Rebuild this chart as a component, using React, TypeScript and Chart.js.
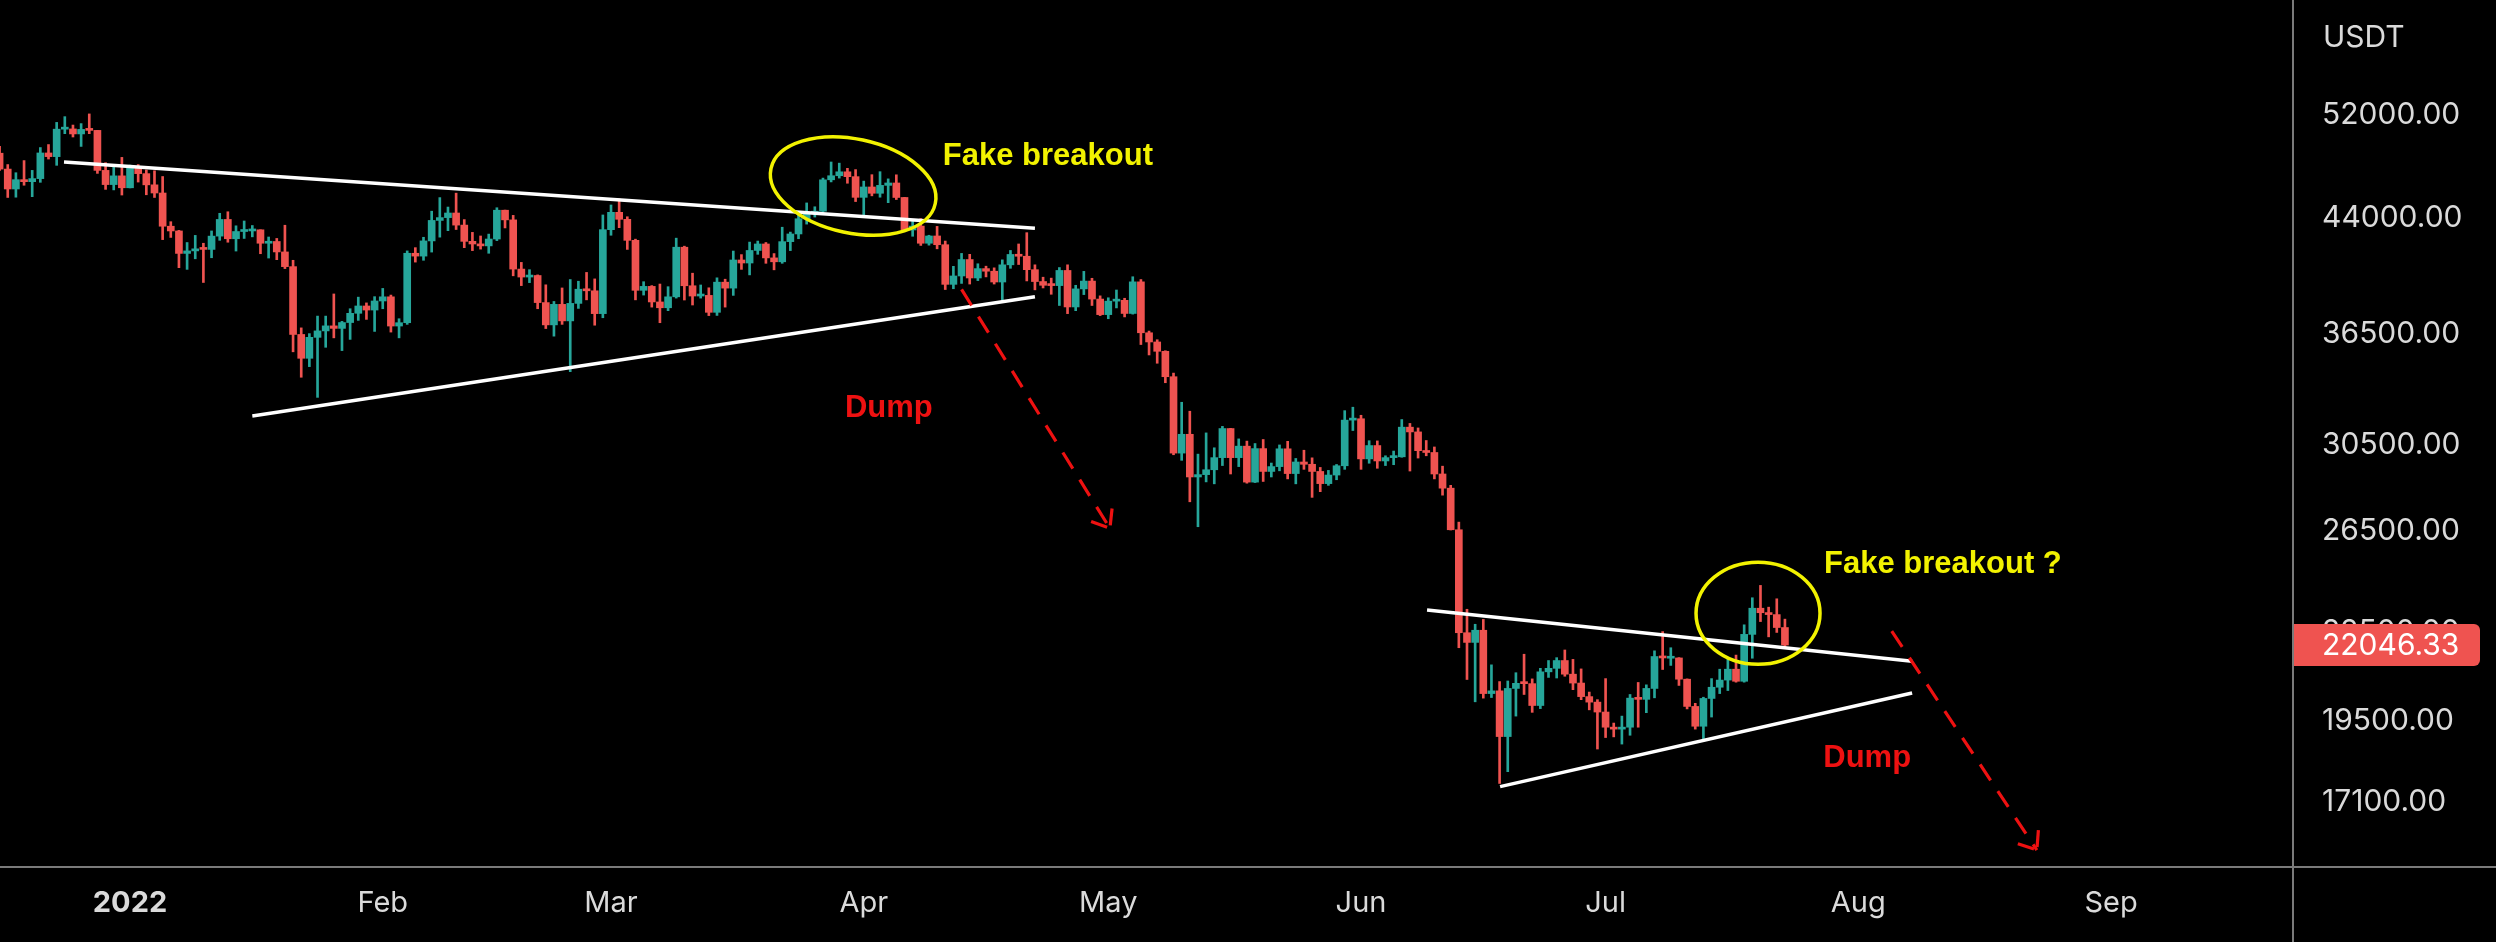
import React, { useEffect, useRef } from "react";
import { Chart, registerables } from "chart.js";

Chart.register(...registerables);

// Day offsets are counted from 1 Jan 2022 (day 0). First candle: 16 Dec 2021.
const FIRST_DAY = -16;

const openPrices = [
  // Dec 16-31
  48880, 47640, 46130, 46830, 46680, 46910, 48900, 48610, 50820, 50840, 50430, 50800, 50720, 47540, 46460, 47120,
  // Jan
  46220, 47720, 47290, 46440, 45830, 43430, 43100, 41560, 41730, 41870, 41830, 42740, 43910, 42560, 43060, 43100,
  43180, 42250, 42370, 41660, 40680, 36450, 35070, 36280, 36660, 36960, 36810, 37160, 37720, 38170, 37920,
  // Feb
  38480, 38740, 36950, 37150, 41570, 41380, 42410, 43840, 44040, 44370, 43510, 42380, 42200, 42070, 42540, 44570,
  43880, 40520, 40000, 40100, 38380, 37020, 38270, 37260, 38330, 39220, 39120, 37700,
  // Mar
  43190, 44420, 43920, 42450, 39150, 39400, 38420, 38060, 38740, 41980, 39440, 38790, 38830, 37780, 39670, 39290,
  41120, 40920, 41760, 42200, 41260, 41000, 42360, 42890, 43960, 44350, 44500, 46820, 47130, 47430, 47060,
  // Apr
  45510, 46280, 45810, 46400, 46580, 45500, 43170, 43440, 42250, 42750, 42150, 39530, 40070, 41150, 39940, 40550,
  40380, 39680, 40800, 41490, 41370, 40480, 39710, 39470, 39450, 40430, 38110, 39240, 39740, 38600,
  // May
  37640, 38470, 38520, 37710, 39690, 36550, 36010, 35470, 34040, 30080, 31010, 28940, 29050, 29280, 29860, 31300,
  29860, 30420, 28700, 30300, 29200, 29430, 30290, 29100, 29650, 29540, 29200, 28630, 29030, 29470, 31730,
  // Jun
  31800, 29800, 30450, 29700, 29860, 29900, 31370, 31130, 30200, 30110, 29080, 28420, 26570, 22490, 22140, 22580,
  20380, 20470, 19010, 20550, 20720, 20710, 19990, 21110, 21230, 21500, 21030, 20730, 20280, 20100,
  // Jul 1-23
  19780, 19300, 19240, 19300, 20230, 20190, 20550, 21640, 21580, 21590, 20860, 19960, 19330, 20220, 20590, 20830,
  21200, 20790, 22430, 23400, 23230, 23160, 22680,
];

const highPrices = [
  49430, 47990, 47360, 48300, 47540, 49330, 49570, 51380, 51860, 51160, 51280, 52090, 50720, 48140, 47880, 48550,
  47950, 47990, 47570, 47510, 47070, 43750, 43140, 42300, 42790, 42250, 43100, 44350, 44460, 43460, 43800, 43480,
  43180, 42680, 42580, 43500, 41100, 36840, 36500, 37550, 37550, 38920, 37230, 38000, 38720, 38360, 38750,
  39270, 38850, 37390, 41730, 41950, 42660, 44500, 45490, 44800, 45820, 43900, 43000, 42750, 42880, 44750, 44580,
  44200, 40960, 40480, 40140, 39500, 38450, 39300, 39840, 39730, 40300, 39880, 44230,
  44950, 45400, 44100, 42530, 39700, 39450, 39550, 39380, 42600, 42050, 40250, 39490, 39310, 39950, 39860, 41720,
  41480, 42330, 42400, 42300, 41550, 43360, 43020, 44220, 45100, 44820, 46950, 48190, 48100, 47700, 47600,
  46720, 47210, 47440, 46890, 47200, 45510, 43900, 43970, 42800, 43420, 42400, 40700, 41560, 41500, 40870, 40710,
  40600, 41130, 41760, 42200, 42980, 40800, 39990, 39930, 40620, 40800, 39470, 40370, 39920, 38800,
  38680, 39170, 38650, 40020, 39840, 36650, 36140, 35500, 34240, 32660, 32190, 30030, 31080, 30340, 31410, 31310,
  30780, 30670, 30550, 30750, 29600, 30480, 30660, 29820, 30220, 29850, 29390, 29250, 29530, 32220, 32400,
  31980, 30690, 30680, 29950, 30180, 31760, 31560, 31330, 30700, 30380, 29450, 28550, 26900, 23360, 22800, 22980,
  21350, 20780, 20800, 21080, 21720, 20870, 21230, 21500, 21600, 21870, 21540, 21210, 20430, 20180,
  20880, 19430, 19650, 20350, 20750, 20670, 21840, 22530, 21950, 21600, 20870, 20060, 20260, 20880, 21200, 21580,
  21690, 22780, 23800, 24280, 23440, 23760, 22990,
];

const lowPrices = [
  47530, 45500, 45520, 46410, 45560, 46630, 48420, 47930, 50450, 50180, 49420, 50450, 47310, 46100, 46060, 45680,
  46210, 46650, 45700, 45500, 42500, 42650, 40610, 40500, 41200, 39650, 41270, 42450, 42320, 41720, 42580, 42690,
  41540, 41250, 41140, 40550, 35440, 34010, 34600, 32920, 35700, 36250, 35510, 36160, 37290, 37350, 36630,
  38000, 36590, 36250, 37050, 40980, 41100, 41650, 42670, 43120, 43200, 41950, 41750, 41850, 41570, 42430, 43310,
  40080, 39450, 39640, 38000, 36800, 36350, 37050, 34320, 38020, 38550, 37000, 37450,
  42800, 43330, 41830, 38550, 38850, 38100, 37150, 37880, 38660, 38540, 38230, 38660, 37580, 37590, 38100, 38830,
  40500, 40140, 41500, 40900, 40470, 40900, 41750, 42560, 43580, 44080, 44420, 46660, 46950, 46560, 45200,
  44200, 45620, 45520, 45120, 45350, 43120, 42730, 42100, 42120, 41870, 39200, 39250, 39590, 39550, 39770, 40010,
  39550, 38530, 40570, 40820, 39750, 39180, 39300, 38900, 38200, 37700, 37880, 38880, 38200, 37580,
  37390, 38050, 37500, 37670, 35860, 35260, 34790, 33710, 30000, 29730, 27800, 26700, 28710, 28620, 29480, 29080,
  29430, 28650, 28680, 28730, 28940, 29230, 28850, 28620, 29300, 28000, 28260, 28550, 28810, 29300, 31200,
  29300, 29590, 29350, 29480, 29520, 29880, 29220, 29840, 29950, 28850, 28100, 26560, 21950, 20850, 20110, 20230,
  20250, 17620, 17960, 19650, 20350, 19770, 19890, 20920, 20900, 20960, 20510, 20180, 19850, 18630,
  18980, 19000, 18780, 19050, 19300, 19760, 20240, 21190, 21330, 20650, 19880, 19240, 18910, 19620, 20380, 20480,
  20760, 20760, 21580, 22900, 22340, 22500, 21930,
];

const closePrices = [
  47640, 46130, 46830, 46680, 46910, 48900, 48610, 50820, 50840, 50430, 50800, 50720, 47540, 46460, 47120, 46220,
  47720, 47290, 46440, 45830, 43430, 43100, 41560, 41730, 41870, 41830, 42740, 43910, 42560, 43060, 43100, 43180,
  42250, 42370, 41660, 40680, 36450, 35070, 36280, 36660, 36960, 36810, 37160, 37720, 38170, 37920, 38480,
  38740, 36950, 37150, 41570, 41380, 42410, 43840, 44040, 44370, 43510, 42380, 42200, 42070, 42540, 44570, 43880,
  40520, 40000, 40100, 38380, 37020, 38270, 37260, 38330, 39220, 39120, 37700, 43190,
  44420, 43920, 42450, 39150, 39400, 38420, 38060, 38740, 41980, 39440, 38790, 38830, 37780, 39670, 39290, 41120,
  40920, 41760, 42200, 41260, 41000, 42360, 42890, 43960, 44350, 44500, 46820, 47130, 47430, 47060, 45510,
  46280, 45810, 46400, 46580, 45500, 43170, 43440, 42250, 42750, 42150, 39530, 40070, 41150, 39940, 40550, 40380,
  39680, 40800, 41490, 41370, 40480, 39710, 39470, 39450, 40430, 38110, 39240, 39740, 38600, 37640,
  38470, 38520, 37710, 39690, 36550, 36010, 35470, 34040, 30080, 31010, 28940, 29050, 29280, 29860, 31300, 29860,
  30420, 28700, 30300, 29200, 29430, 30290, 29100, 29650, 29540, 29200, 28630, 29030, 29470, 31730, 31800,
  29800, 30450, 29700, 29860, 29900, 31370, 31130, 30200, 30110, 29080, 28420, 26570, 22490, 22140, 22580, 20380,
  20470, 19010, 20550, 20720, 20710, 19990, 21110, 21230, 21500, 21030, 20730, 20280, 20100, 19780,
  19300, 19240, 19300, 20230, 20190, 20550, 21640, 21590, 21590, 20860, 19960, 19330, 20220, 20590, 20830, 21200,
  20790, 22430, 23400, 23230, 23160, 22680, 22046.33,
];

const monthTickDays = [0, 31, 59, 90, 120, 151, 181, 212, 243];
const monthTickLabels = ["2022", "Feb", "Mar", "Apr", "May", "Jun", "Jul", "Aug", "Sep"];
const priceTicks = [17100, 19500, 22500, 26500, 30500, 36500, 44000, 52000];
const lastPrice = 22046.33;
const currencyLabel = "USDT";

// Annotations, in data coordinates [day, price]
const trendLineStarts = [[-8.1, 48190], [15, 31940], [159.1, 23330], [168.06, 17530]];
const trendLineEnds = [[111, 43290], [111, 38750], [218.6, 21475], [218.6, 20400]];
const ellipseCenters = [[88.7, 46350], [199.7, 23210]];
const arrowStarts = [[102.0, 39210], [216.1, 22550]];
const arrowEnds = [[120.2, 26630], [233.9, 15820]];
const noteTexts = ["Fake breakout", "Dump", "Fake breakout ?", "Dump"];
const noteAnchors = [[99.7, 47960], [87.7, 31890], [207.8, 24770], [207.7, 18085]];

const UP = "#26a69a";
const DOWN = "#ef5350";
const AXIS_TEXT = "#dadada";
const ANNOT_FONT = "bold 31px 'Liberation Sans', Arial, sans-serif";
const TICK_FONT_FAMILY = "Inter, 'Noto Sans', sans-serif";
const TICK_SIZE = 30;
const ellipseStyles = [
  { rx: 84, ry: 47, rot: (12 * Math.PI) / 180 },
  { rx: 62, ry: 51, rot: 0 },
];
const noteColors = ["#f2f200", "#ee1111", "#f2f200", "#ee1111"];

const overlayPlugin = {
  id: "overlay",
  beforeDraw(chart: any) {
    const { ctx, width, height } = chart;
    ctx.save();
    ctx.fillStyle = "#000";
    ctx.fillRect(0, 0, width, height);
    ctx.restore();
  },
  afterDraw(chart: any) {
    const { ctx, width, height, chartArea } = chart;
    const xs = chart.scales.x;
    const ys = chart.scales.y;
    const px = (p: number[]) => [xs.getPixelForValue(p[0]), ys.getPixelForValue(p[1])];
    ctx.save();

    // separators
    ctx.strokeStyle = "#7a7a7a";
    ctx.lineWidth = 2;
    ctx.beginPath();
    ctx.moveTo(chartArea.right + 1, 0);
    ctx.lineTo(chartArea.right + 1, height);
    ctx.moveTo(0, chartArea.bottom + 1);
    ctx.lineTo(width, chartArea.bottom + 1);
    ctx.stroke();

    // trend lines
    ctx.strokeStyle = "#ffffff";
    ctx.lineWidth = 3.5;
    ctx.lineCap = "butt";
    trendLineStarts.forEach((s, i) => {
      const a = px(s);
      const b = px(trendLineEnds[i]);
      ctx.beginPath();
      ctx.moveTo(a[0], a[1]);
      ctx.lineTo(b[0], b[1]);
      ctx.stroke();
    });

    // ellipses
    ctx.strokeStyle = "#f2f200";
    ctx.lineWidth = 3.5;
    ellipseCenters.forEach((c, i) => {
      const p = px(c);
      const st = ellipseStyles[i];
      ctx.beginPath();
      ctx.ellipse(p[0], p[1], st.rx, st.ry, st.rot, 0, Math.PI * 2);
      ctx.stroke();
    });

    // dashed arrows
    ctx.strokeStyle = "#ee1111";
    ctx.lineWidth = 3.2;
    arrowStarts.forEach((s, i) => {
      const a = px(s);
      const b = px(arrowEnds[i]);
      ctx.setLineDash([19, 13]);
      ctx.beginPath();
      ctx.moveTo(a[0], a[1]);
      ctx.lineTo(b[0], b[1]);
      ctx.stroke();
      ctx.setLineDash([]);
      const ang = Math.atan2(b[1] - a[1], b[0] - a[0]);
      const back = ang + Math.PI;
      const spread = (38 * Math.PI) / 180;
      [back - spread, back + spread].forEach((t) => {
        ctx.beginPath();
        ctx.moveTo(b[0] + Math.cos(t) * 3, b[1] + Math.sin(t) * 3);
        ctx.lineTo(b[0] + Math.cos(t) * 20, b[1] + Math.sin(t) * 20);
        ctx.stroke();
      });
    });

    // notes
    ctx.font = ANNOT_FONT;
    ctx.textAlign = "left";
    ctx.textBaseline = "alphabetic";
    noteTexts.forEach((t, i) => {
      const p = px(noteAnchors[i]);
      ctx.fillStyle = noteColors[i];
      ctx.fillText(t, p[0], p[1]);
    });

    // last price label
    const yp = ys.getPixelForValue(lastPrice);
    const bx = chartArea.right + 2;
    const bw = 186;
    const bh = 42;
    ctx.fillStyle = DOWN;
    ctx.beginPath();
    (ctx as any).roundRect(bx, yp - bh / 2, bw, bh, [0, 6, 6, 0]);
    ctx.fill();
    ctx.fillStyle = "#ffffff";
    ctx.font = `${TICK_SIZE}px ${TICK_FONT_FAMILY}`;
    ctx.textBaseline = "middle";
    ctx.fillText(lastPrice.toFixed(2), chartArea.right + 30, yp + 1);

    // currency label
    ctx.fillStyle = AXIS_TEXT;
    ctx.fillText(currencyLabel, chartArea.right + 31, 38);
    ctx.restore();
  },
};

export default function App() {
  const ref = useRef<HTMLCanvasElement | null>(null);
  useEffect(() => {
    document.body.style.margin = "0";
    document.body.style.background = "#000";
    const canvas = ref.current;
    if (!canvas) return;
    const days = closePrices.map((_, i) => FIRST_DAY + i);
    const colors = closePrices.map((c, i) => (c >= openPrices[i] ? UP : DOWN));
    const bodies = days.map((d, i) => ({ x: d, y: [openPrices[i], closePrices[i]] }));
    const wicks = days.map((d, i) => ({ x: d, y: [lowPrices[i], highPrices[i]] }));

    const chart = new Chart(canvas, {
      type: "bar",
      data: {
        datasets: [
          {
            label: "body",
            data: bodies as any,
            backgroundColor: colors,
            borderWidth: 0,
            barThickness: 7,
            minBarLength: 2,
            grouped: false,
            order: 0,
          } as any,
          {
            label: "wick",
            data: wicks as any,
            backgroundColor: colors,
            borderWidth: 0,
            barThickness: 2,
            grouped: false,
            order: 1,
          } as any,
        ],
      },
      options: {
        responsive: false,
        animation: false,
        devicePixelRatio: 1,
        layout: { padding: 0 },
        plugins: { legend: { display: false }, tooltip: { enabled: false } },
        scales: {
          x: {
            type: "linear",
            min: -15.95,
            max: 265.2,
            offset: false,
            bounds: "data",
            grid: { display: false, drawTicks: false },
            border: { display: false },
            afterBuildTicks: (s: any) => {
              s.ticks = monthTickDays.map((v) => ({ value: v }));
            },
            afterFit: (s: any) => {
              s.height = 76;
              s.paddingLeft = 0;
              s.paddingRight = 0;
            },
            ticks: {
              autoSkip: false,
              maxRotation: 0,
              minRotation: 0,
              padding: 20,
              color: AXIS_TEXT,
              font: (c: any) => ({
                family: TICK_FONT_FAMILY,
                size: 29,
                weight: c.tick && c.tick.value === 0 ? "bold" : "normal",
              }),
              callback: (v: any) => {
                const i = monthTickDays.indexOf(Number(v));
                return i >= 0 ? monthTickLabels[i] : "";
              },
            },
          },
          y: {
            type: "logarithmic",
            position: "right",
            min: 15416,
            max: 62640,
            bounds: "data",
            grid: { display: false, drawTicks: false },
            border: { display: false },
            afterBuildTicks: (s: any) => {
              s.ticks = priceTicks.map((v) => ({ value: v }));
            },
            afterFit: (s: any) => {
              s.width = 204;
              s.paddingTop = 0;
              s.paddingBottom = 0;
            },
            ticks: {
              padding: 30,
              color: AXIS_TEXT,
              font: { family: TICK_FONT_FAMILY, size: TICK_SIZE },
              callback: (v: any) => Number(v).toFixed(2),
            },
          },
        },
      } as any,
      plugins: [overlayPlugin],
    });
    return () => chart.destroy();
  }, []);

  return (
    <div style={{ position: "fixed", left: 0, top: 0, width: 2496, height: 942, background: "#000" }}>
      <canvas ref={ref} width={2496} height={942} style={{ display: "block", width: 2496, height: 942 }} />
    </div>
  );
}
